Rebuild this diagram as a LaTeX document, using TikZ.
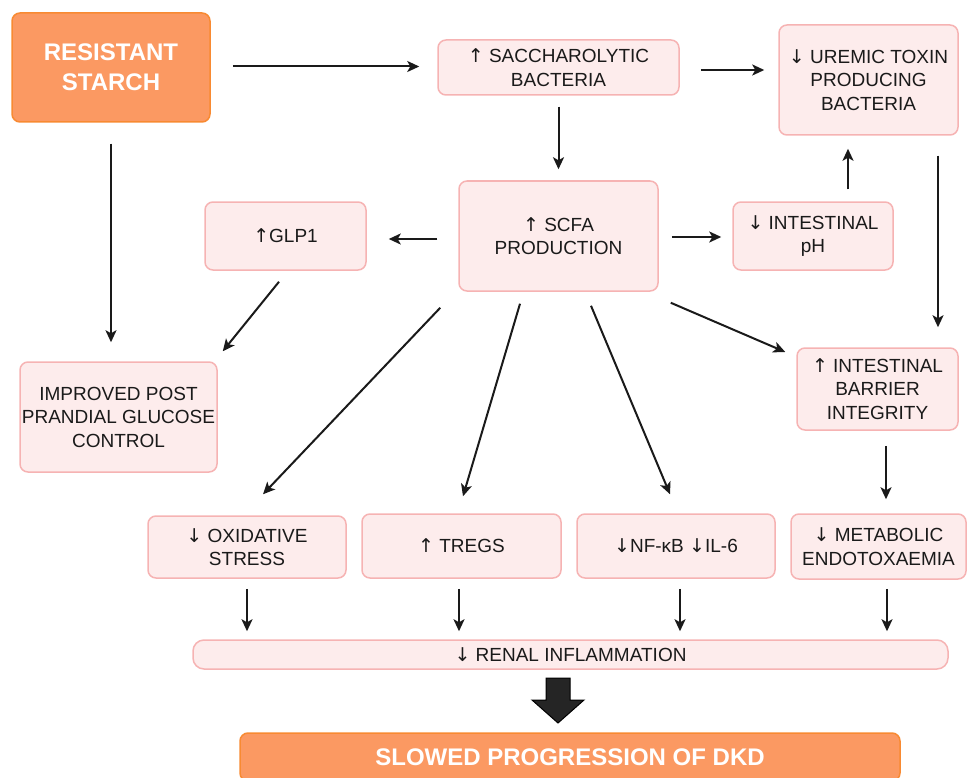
\documentclass[tikz,border=0pt]{standalone}
\usepackage{fontspec}
\setmainfont{Liberation Sans}
\newfontfamily\arrfont{DejaVu Sans}
\newcommand{\upa}{{\arrfont\char"2191}}
\newcommand{\dna}{{\arrfont\char"2193}}
\usetikzlibrary{arrows.meta,calc}
\definecolor{boxfill}{HTML}{FDECEC}
\definecolor{boxline}{HTML}{F6B3B3}
\definecolor{orfill}{HTML}{FB9962}
\definecolor{orline}{HTML}{F88A32}
\definecolor{ink}{HTML}{1A1A1A}

\begin{document}
\begin{tikzpicture}[x=1pt,y=-1pt,
			box/.style={draw=boxline,fill=boxfill,line width=1.5pt,rounded corners=8pt,
				align=center,inner sep=0pt,text=ink,font=\fontsize{19}{23.5}\selectfont},
			hot/.style={draw=orline,fill=orfill,line width=1.5pt,rounded corners=8pt,
				align=center,inner sep=0pt,text=white,font=\fontsize{24}{30}\selectfont\bfseries},
			sz/.style 2 args={minimum width=#1pt,minimum height=#2pt},
			arr/.style={-{Stealth[length=12pt,width=11pt,inset=3pt]},line width=2pt,draw=ink}]
			\useasboundingbox (0,0) rectangle (968,778);
			\clip (0,0) rectangle (968,778);
			\node (starch) [hot,sz={198}{109}] at (111,67.5) {RESISTANT\\STARCH};
			\node (sacch) [box,sz={241}{55}] at (558.5,67.5) {\upa\ SACCHAROLYTIC\\BACTERIA};
			\node (uremic) [box,sz={179}{110}] at (868.5,80) {\dna\ UREMIC TOXIN\\PRODUCING\\BACTERIA};
			\node (scfa) [box,sz={199}{110}] at (558.5,236) {\upa\ SCFA\\PRODUCTION};
			\node (glp) [box,sz={161}{68}] at (285.5,236) {\upa GLP1};
			\node (ph) [box,sz={160}{68}] at (813,236) {\dna\ INTESTINAL\\pH};
			\node (improved) [box,sz={197}{110}] at (118.5,417) {IMPROVED POST\\PRANDIAL GLUCOSE\\CONTROL};
			\node (barrier) [box,sz={161}{82}] at (877.5,389) {\upa\ INTESTINAL\\BARRIER\\INTEGRITY};
			\node (oxid) [box,sz={198}{62}] at (247,547) {\dna\ OXIDATIVE\\STRESS};
			\node (tregs) [box,sz={199}{64}] at (461.5,546) {\upa\ TREGS};
			\node (nfkb) [box,sz={198}{64}] at (676,546) {\dna NF-κB \dna IL-6};
			\node (endotox) [box,sz={175}{65}] at (878.5,546.5) {\dna\ METABOLIC\\ENDOTOXAEMIA};
			\node (renal) [box,sz={755}{29},rounded corners=11pt] at (570.5,654.5) {\dna\ RENAL INFLAMMATION};
			\node (dkd) [hot,sz={660}{48}] at (570,757) {SLOWED PROGRESSION OF DKD};
			% top row
			\draw[arr] ($(starch.east)+(22,-1)$) -- ($(sacch.west)+(-18,-1)$);
			\draw[arr] ($(sacch.east)+(21,2.5)$) -- ($(uremic.west)+(-14,-10)$);
			\draw[arr] ($(sacch.south)+(0,11)$) -- ($(scfa.north)+(0,-11)$);
			\draw[arr] ($(scfa.west)+(-21,3)$) -- ($(glp.east)+(22,3)$);
			\draw[arr] ($(scfa.east)+(13,1)$) -- ($(ph.west)+(-11,1)$);
			\draw[arr] ($(ph.north)+(35,-12)$) -- ($(uremic.south)+(-20.5,13)$);
			\draw[arr] ($(uremic.south)+(69.5,20)$) -- ($(barrier.north)+(60.5,-20)$);
			\draw[arr] ($(starch.south)+(0,21)$) -- ($(improved.north)+(-7.5,-19)$);
			\draw[arr] ($(glp.south)+(-6.5,11)$) -- ($(improved.north east)+(5,-10)$);
			% out of scfa
			\draw[arr] ($(scfa.south west)+(-18,16)$) -- ($(oxid.north)+(16,-21)$);
			\draw[arr] ($(scfa.south)+(-38.5,12)$) -- ($(tregs.north)+(1.5,-17)$);
			\draw[arr] ($(scfa.south)+(32.5,14)$) -- ($(nfkb.north)+(-6,-19)$);
			\draw[arr] ($(scfa.south east)+(12,11)$) -- ($(barrier.west)+(-11,-37)$);
			\draw[arr] ($(barrier.south)+(8.5,15)$) -- ($(endotox.north)+(7.5,-14)$);
			% into renal
			\draw[arr] ($(oxid.south)+(0,10)$) -- ($(renal.north)+(-323.5,-8)$);
			\draw[arr] ($(tregs.south)+(-2.5,10)$) -- ($(renal.north)+(-111.5,-8)$);
			\draw[arr] ($(nfkb.south)+(4,10)$) -- ($(renal.north)+(109.5,-8)$);
			\draw[arr] ($(endotox.south)+(8.5,9)$) -- ($(renal.north)+(316.5,-8)$);
			% block arrow
			\filldraw[fill=ink!95,draw=black,line width=1pt] (546,678) -- (570,678) -- (570,700) -- (584,700)
				-- (558,723) -- (532,700) -- (546,700) -- cycle;
		\end{tikzpicture}
\end{document}
